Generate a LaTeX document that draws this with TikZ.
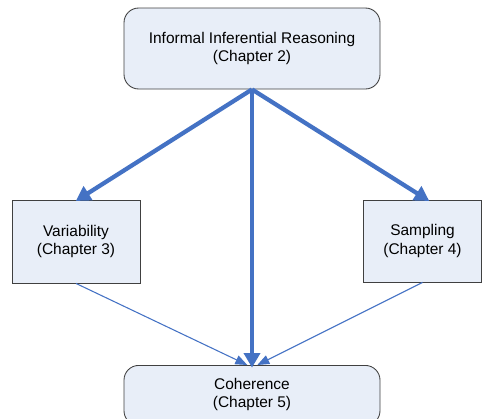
\documentclass[tikz,border=0pt]{standalone}
\usepackage{fontspec}
\setmainfont{Liberation Sans}
\usetikzlibrary{arrows.meta}
\definecolor{boxfill}{HTML}{E8EEF8}
\definecolor{boxline}{HTML}{404040}
\definecolor{flow}{HTML}{4472C4}
\begin{document}
\begin{tikzpicture}[x=0.75pt,y=-0.75pt,
  box/.style={draw=boxline, fill=boxfill, line width=0.65pt, align=center,
    font=\fontsize{11.6pt}{13.8pt}\selectfont, inner sep=0pt},
  roundbox/.style={box, rounded corners=11pt},
  mainlink/.style={draw=flow, line width=3.2pt,
    -{Triangle[length=11pt,width=12pt]}, shorten >=-2pt},
  sidelink/.style={draw=flow, line width=0.8pt,
    -{Triangle[length=9pt,width=7pt]}}]
  \useasboundingbox (0,0) rectangle (482,418);
  % chapter boxes
  \node[roundbox, minimum width=192pt, minimum height=60.75pt] (iir) at (252,48.5)
    {Informal Inferential Reasoning\\(Chapter 2)};
  \node[box, minimum width=96pt, minimum height=62.25pt] (var) at (76,241.5)
    {Variability\\(Chapter 3)};
  \node[box, minimum width=88pt, minimum height=61.5pt] (smp) at (422.5,241)
    {Sampling\\(Chapter 4)};
  \node[roundbox, minimum width=192pt, minimum height=45pt, anchor=north] (coh) at (252,365)
    {\raisebox{11.5pt}{\begin{tabular}{@{}c@{}}Coherence\\(Chapter 5)\end{tabular}}};
  % links
  \draw[mainlink] (iir.south) -- ([xshift=1.5pt]var.north);
  \draw[mainlink] (iir.south) -- ([xshift=3.4pt]smp.north);
  \draw[mainlink] (iir.south) -- (coh.north);
  \draw[sidelink] (var.south) -- ([xshift=-3.5pt]coh.north);
  \draw[sidelink] (smp.south) -- ([xshift=4pt]coh.north);
\end{tikzpicture}
\end{document}
